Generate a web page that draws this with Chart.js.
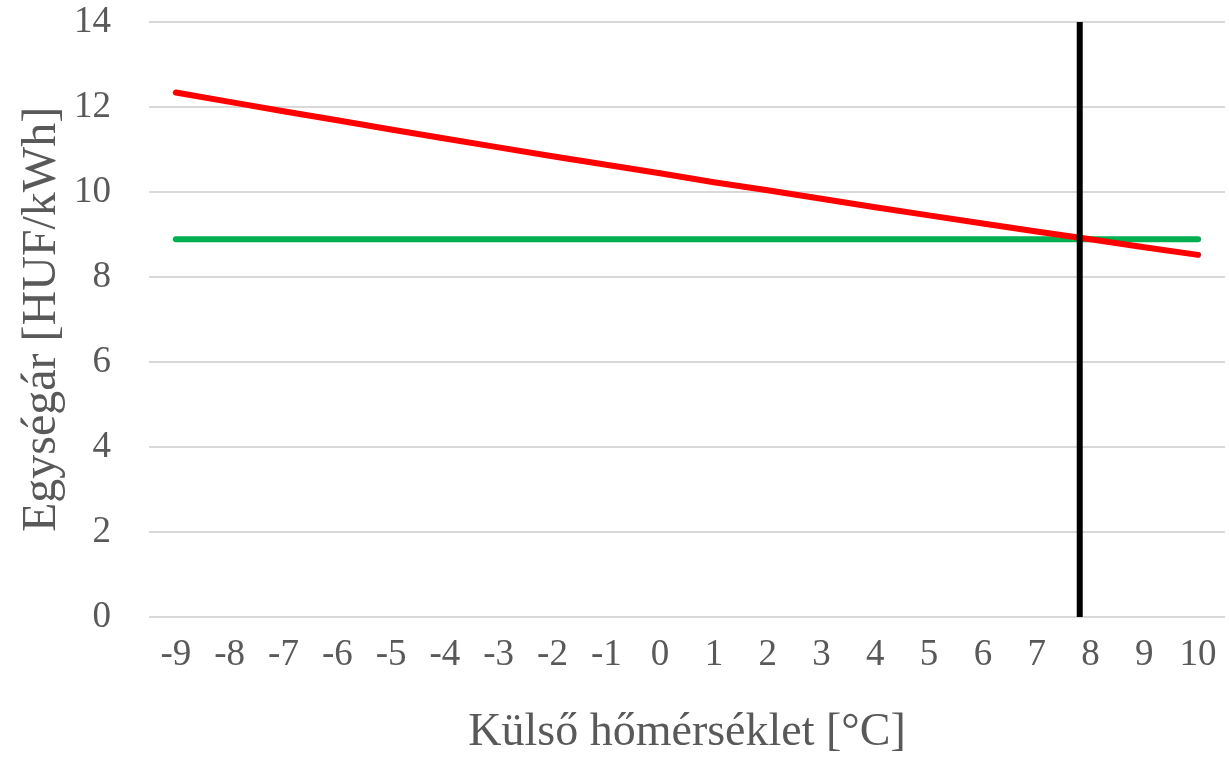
<!DOCTYPE html>
<html>
<head>
<meta charset="utf-8">
<script src="https://cdn.jsdelivr.net/npm/chart.js@4.4.1/dist/chart.umd.min.js"></script>
<style>
  html, body { margin: 0; padding: 0; background: #ffffff; }
  #wrap { width: 1229px; height: 758px; position: relative; }
</style>
</head>
<body>
<div id="wrap"><canvas id="c"></canvas></div>
<script>
// Outdoor temperature steps (°C)
const temperatures = [-9, -8, -7, -6, -5, -4, -3, -2, -1, 0, 1, 2, 3, 4, 5, 6, 7, 8, 9, 10];
// Unit price of the temperature-dependent option (HUF/kWh)
const priceVariable = [12.34, 12.12, 11.90, 11.69, 11.47, 11.26, 11.05, 10.84, 10.64, 10.44,
                       10.23, 10.04, 9.84, 9.64, 9.45, 9.26, 9.07, 8.89, 8.70, 8.52];
// Unit price of the fixed option (HUF/kWh)
const priceFixed = [8.89, 8.89, 8.89, 8.89, 8.89, 8.89, 8.89, 8.89, 8.89, 8.89,
                    8.89, 8.89, 8.89, 8.89, 8.89, 8.89, 8.89, 8.89, 8.89, 8.89];
// Break-even temperature marker and its vertical extent
const breakEvenTemp = 7.8;
const markerRange = [0, 14];
// Value axis ticks
const yTicks = [0, 2, 4, 6, 8, 10, 12, 14];

const FONT = "'Liberation Serif', 'Times New Roman', serif";
const TEXT = '#595959';

const toPoints = (xs, ys) => xs.map((x, i) => ({ x: x, y: ys[i] }));

new Chart(document.getElementById('c'), {
  type: 'line',
  data: {
    datasets: [
      {
        label: 'Változó',
        data: toPoints(temperatures, priceVariable),
        borderColor: '#FF0000',
        borderWidth: 6,
        borderCapStyle: 'round',
        pointRadius: 0,
        tension: 0,
        order: 2
      },
      {
        label: 'Fix',
        data: toPoints(temperatures, priceFixed),
        borderColor: '#00B050',
        borderWidth: 6,
        borderCapStyle: 'round',
        pointRadius: 0,
        tension: 0,
        order: 3
      },
      {
        label: 'Határ',
        data: markerRange.map(v => ({ x: breakEvenTemp, y: v })),
        borderColor: '#000000',
        borderWidth: 6,
        pointRadius: 0,
        order: 1
      }
    ]
  },
  options: {
    responsive: true,
    maintainAspectRatio: false,
    animation: false,
    layout: { padding: { top: 22, right: 4, bottom: 0, left: 0 } },
    plugins: {
      legend: { display: false },
      tooltip: { enabled: false }
    },
    scales: {
      x: {
        type: 'linear',
        min: temperatures[0] - 0.5,
        max: temperatures[temperatures.length - 1] + 0.5,
        afterBuildTicks: (scale) => {
          scale.ticks = temperatures.map(v => ({ value: v }));
        },
        afterFit: (scale) => {
          scale.height = 141;
          scale.paddingLeft = 0;
          scale.paddingRight = 0;
        },
        grid: { display: false },
        border: { display: false },
        ticks: {
          color: TEXT,
          font: { family: FONT, size: 37 },
          padding: 8,
          maxRotation: 0,
          autoSkip: false,
          callback: (v) => String(v)
        },
        title: {
          display: true,
          text: 'Külső hőmérséklet [°C]',
          color: TEXT,
          font: { family: FONT, size: 46, lineHeight: 1 },
          padding: { top: 0, bottom: 2 }
        }
      },
      y: {
        min: yTicks[0],
        max: yTicks[yTicks.length - 1],
        afterBuildTicks: (scale) => {
          scale.ticks = yTicks.map(v => ({ value: v }));
        },
        afterFit: (scale) => {
          scale.width = 149;
          scale.paddingTop = 0;
          scale.paddingBottom = 0;
        },
        grid: { color: '#D9D9D9', lineWidth: 2, drawTicks: false },
        border: { display: false },
        ticks: {
          color: TEXT,
          font: { family: FONT, size: 37 },
          padding: 38
        },
        title: {
          display: true,
          text: 'Egységár [HUF/kWh]',
          color: TEXT,
          font: { family: FONT, size: 48, lineHeight: 1 },
          padding: { top: 18, bottom: 0 }
        }
      }
    }
  }
});
</script>
</body>
</html>
